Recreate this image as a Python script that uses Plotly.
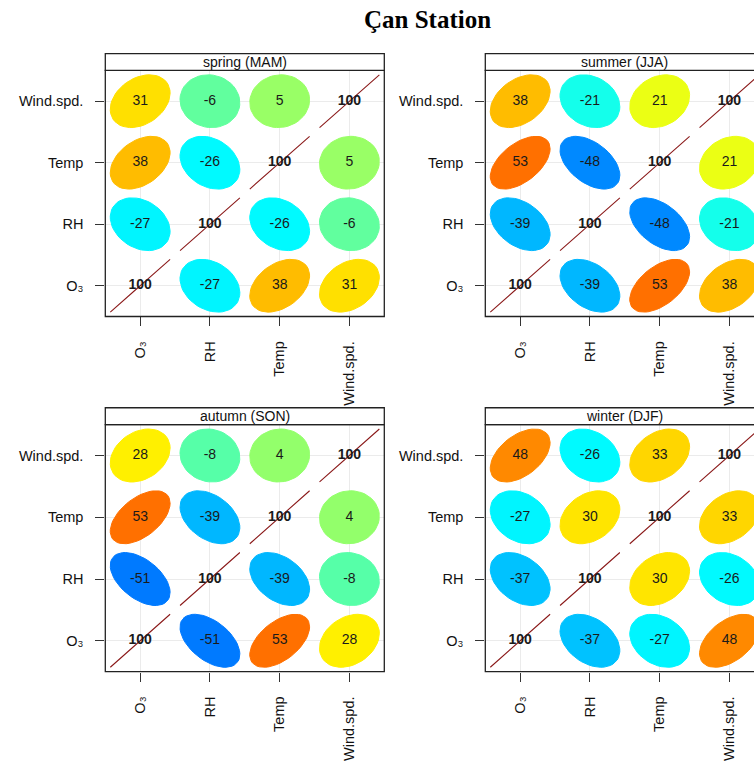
import numpy as np
import plotly.graph_objects as go

# Variables and their display labels
variables = ["O3", "RH", "Temp", "Wind.spd."]
tick_labels = ["O₃", "RH", "Temp", "Wind.spd."]
seasons = ["spring (MAM)", "summer (JJA)", "autumn (SON)", "winter (DJF)"]

# Pairwise correlations (%) ordered: O3-RH, O3-Temp, O3-Wind, RH-Temp, RH-Wind, Temp-Wind
spring = [-27, 38, 31, -26, -6, 5]
summer = [-39, 53, 38, -48, -21, 21]
autumn = [-51, 53, 28, -39, -8, 4]
winter = [-37, -27, 48, 30, -26, 33]
season_values = [spring, summer, autumn, winter]

W, H = 754, 761


def corr_matrix(vals):
    n = len(variables)
    m = np.eye(n) * 100
    k = 0
    for i in range(n):
        for j in range(i + 1, n):
            m[i, j] = m[j, i] = vals[k]
            k += 1
    return m


# jet-like ramp (openair "default" colours)
jet = ["#00007F", "#0000FF", "#007FFF", "#00FFFF", "#7FFF7F",
       "#FFFF00", "#FF7F00", "#FF0000", "#7F0000"]


def hex2rgb(h):
    return np.array([int(h[i:i + 2], 16) for i in (1, 3, 5)], dtype=float)


def colour(r):
    pos = (r + 1) / 2 * (len(jet) - 1)
    i = int(np.clip(np.floor(pos), 0, len(jet) - 2))
    f = pos - i
    c = hex2rgb(jet[i]) * (1 - f) + hex2rgb(jet[i + 1]) * f
    return "rgb(%d,%d,%d)" % tuple(np.round(c))


# ellipse outline as in ellipse::ellipse(r, level=0.9, scale=c(.2,.2))
T = np.sqrt(-2 * np.log(1 - 0.9))
ang = np.linspace(0, 2 * np.pi, 50)


def ellipse(r, cx, cy):
    d = np.arccos(np.clip(r, -1, 1))
    return (T * 0.2 * np.cos(ang + d / 2) + cx,
            T * 0.2 * np.cos(ang - d / 2) + cy)


# panel pixel boxes (x0, x1, y0, y1)
col_x = [(105.3, 384.3), (485.3, 764.3)]
row_y = [(71.0, 319.0), (428.0, 677.0)]
STRIP = 17
LABEL_FONT = "Liberation Sans, Arial, DejaVu Sans"

fig = go.Figure()
layout = {}
shapes = []
annotations = []

for p, (name, vals) in enumerate(zip(seasons, season_values)):
    r_i, c_i = divmod(p, 2)
    x0, x1 = col_x[c_i]
    y0, y1 = row_y[r_i]
    unit = (x1 - x0) / 4
    xv = min(x1, W)
    ax = "" if p == 0 else str(p + 1)
    m = corr_matrix(vals)
    n = len(variables)

    for i in range(n):          # column variable (x)
        for j in range(n):      # row variable (y)
            r = m[i, j] / 100
            ex, ey = ellipse(r, i + 1, j + 1)
            if i == j:
                fig.add_trace(go.Scatter(
                    x=ex, y=ey, mode="lines", xaxis="x" + ax, yaxis="y" + ax,
                    line=dict(color="#8B1A1A", width=1.1), hoverinfo="skip"))
            else:
                col = colour(r)
                fig.add_trace(go.Scatter(
                    x=ex, y=ey, mode="lines", fill="toself", fillcolor=col,
                    xaxis="x" + ax, yaxis="y" + ax,
                    line=dict(color=col, width=1), hoverinfo="skip"))

    off_x, off_y, off_t = [], [], []
    dia_x, dia_y, dia_t = [], [], []
    for i in range(n):
        for j in range(n):
            v = "%d" % int(m[i, j])
            if i == j:
                dia_x.append(i + 1); dia_y.append(j + 1); dia_t.append(v)
            else:
                off_x.append(i + 1); off_y.append(j + 1); off_t.append(v)
    fig.add_trace(go.Scatter(
        x=off_x, y=off_y, text=off_t, mode="text", xaxis="x" + ax, yaxis="y" + ax,
        textfont=dict(family=LABEL_FONT, size=14, color="#1a1a1a"),
        hoverinfo="skip"))
    fig.add_trace(go.Scatter(
        x=dia_x, y=dia_y, text=dia_t, mode="text", xaxis="x" + ax, yaxis="y" + ax,
        textfont=dict(family=LABEL_FONT, size=14, color="#1a1a1a", weight="bold"),
        hoverinfo="skip"))

    common = dict(
        tickmode="array", tickvals=[1, 2, 3, 4], ticktext=tick_labels,
        ticks="outside", ticklen=9, tickwidth=1, tickcolor="#333333",
        showgrid=True, gridcolor="#EBEBEB", gridwidth=1, zeroline=False,
        showline=False, ticklabelstandoff=9,
        tickfont=dict(family=LABEL_FONT, size=14.5, color="#111111"),
        fixedrange=True)
    layout["xaxis" + ax] = dict(
        common, domain=[x0 / W, xv / W], range=[0.5, 0.5 + (xv - x0) / unit],
        anchor="y" + ax, tickangle=-90)
    layout["yaxis" + ax] = dict(
        common, domain=[1 - y1 / H, 1 - y0 / H], range=[0.5, 4.5],
        anchor="x" + ax)

    # panel frame and strip
    shapes.append(dict(type="rect", xref="paper", yref="paper",
                       x0=x0 / W, x1=x1 / W, y0=1 - y1 / H, y1=1 - y0 / H,
                       line=dict(color="#222222", width=1.3), layer="above"))
    shapes.append(dict(type="rect", xref="paper", yref="paper",
                       x0=x0 / W, x1=x1 / W, y0=1 - y0 / H, y1=1 - (y0 - STRIP) / H,
                       fillcolor="white", line=dict(color="#222222", width=1.3),
                       layer="above"))
    annotations.append(dict(
        text=name, xref="paper", yref="paper", x=(x0 + x1) / 2 / W,
        y=1 - (y0 - STRIP / 2) / H, showarrow=False, xanchor="center",
        yanchor="middle",
        font=dict(family=LABEL_FONT, size=14, color="#111111")))

annotations.append(dict(
    text="Çan Station", xref="paper", yref="paper", x=428 / W,
    y=1 - 20 / H, showarrow=False, xanchor="center", yanchor="middle",
    font=dict(family="Liberation Serif, Times New Roman", size=25,
              color="black", weight="bold")))

fig.update_layout(
    width=W, height=H, margin=dict(l=0, r=0, t=0, b=0),
    paper_bgcolor="white", plot_bgcolor="white", showlegend=False,
    shapes=shapes, annotations=annotations, **layout)

fig.write_html("out.html")
